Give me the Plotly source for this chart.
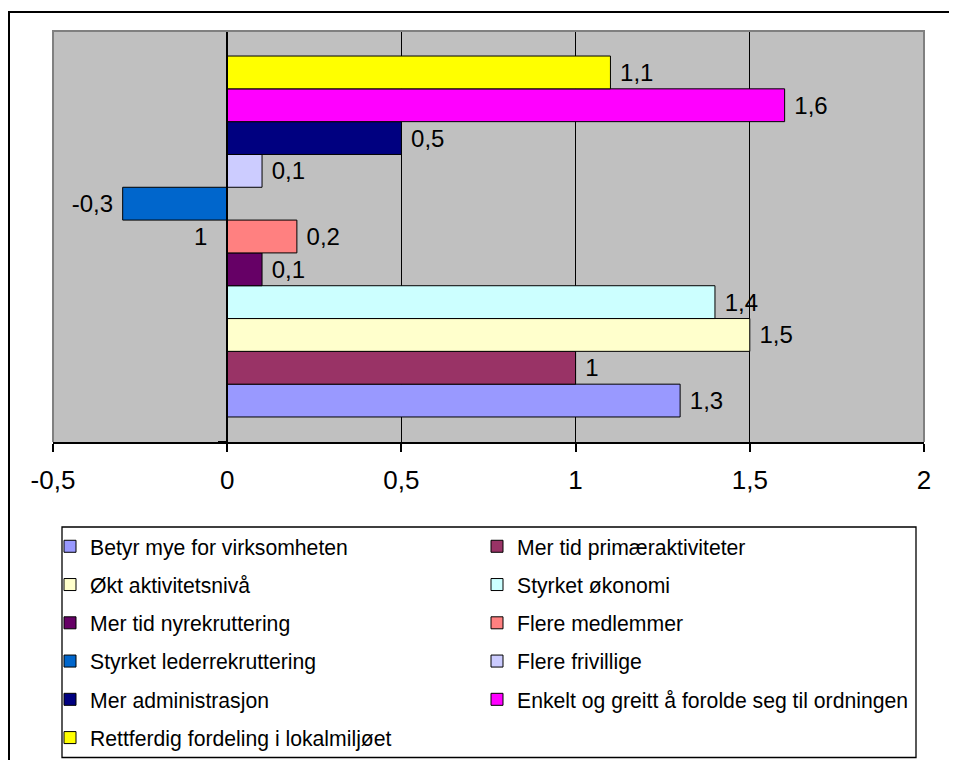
import plotly.graph_objects as go

categories = ["1"]
series_names = [
    "Betyr mye for virksomheten",
    "Mer tid primæraktiviteter",
    "Økt aktivitetsnivå",
    "Styrket økonomi",
    "Mer tid nyrekruttering",
    "Flere medlemmer",
    "Styrket lederrekruttering",
    "Flere frivillige",
    "Mer administrasjon",
    "Enkelt og greitt å forolde seg til ordningen",
    "Rettferdig fordeling i lokalmiljøet",
]
series_values = [1.3, 1.0, 1.5, 1.4, 0.1, 0.2, -0.3, 0.1, 0.5, 1.6, 1.1]
series_colors = [
    "#9999FF", "#993366", "#FFFFCC", "#CCFFFF", "#660066", "#FF8080",
    "#0066CC", "#CCCCFF", "#000080", "#FF00FF", "#FFFF00",
]
x_tickvals = [-0.5, 0, 0.5, 1, 1.5, 2]


def fmt(v):
    s = ("%g" % v).replace(".", ",")
    return (" " + s) if v >= 0 else (s + " ")


OFF = 8  # page body margin
W, H = 957 - OFF, 760 - OFF
# target plot area in screen pixels
PX_L, PX_R, PX_T, PX_B = 53, 924, 31, 442
L = PX_L - OFF
T = PX_T - OFF
R = W - (PX_R - OFF)
B = H - (PX_B - OFF)
PW, PH = W - L - R, H - T - B


def px_x(px):
    return (px - OFF - L) / PW


def px_y(py):
    return (H - B - (py - OFF)) / PH


fig = go.Figure()
for i, (name, val, col) in enumerate(zip(series_names, series_values, series_colors)):
    fig.add_trace(go.Bar(
        y=categories, x=[val], name=name, orientation="h",
        marker=dict(color=col, line=dict(color="black", width=1)),
        text=[fmt(val)], textposition="outside", constraintext="none",
        textfont=dict(size=24, color="black", family="Liberation Sans, Arial"),
        cliponaxis=False,
        legend="legend" if i % 2 == 0 else "legend2",
        legendgroup=name,
    ))

legend_common = dict(
    xanchor="left", yanchor="top", orientation="v",
    bgcolor="rgba(0,0,0,0)", borderwidth=0,
    font=dict(size=21.2, color="black", family="Liberation Sans, Arial"),
    traceorder="grouped", tracegroupgap=7.7,
)

fig.update_layout(
    width=W, height=H,
    margin=dict(l=L, r=R, t=T, b=B, pad=0, autoexpand=False),
    paper_bgcolor="white", plot_bgcolor="#C0C0C0",
    barmode="group", bargap=0.12, bargroupgap=0,
    font=dict(family="Liberation Sans, Arial", color="black"),
    legend=dict(x=px_x(50), y=px_y(526), **legend_common),
    legend2=dict(x=px_x(477), y=px_y(526), **legend_common),
    xaxis=dict(
        range=[-0.5, 2], tickvals=x_tickvals,
        ticktext=[("%g" % v).replace(".", ",") for v in x_tickvals],
        showgrid=True, gridcolor="black", gridwidth=1, zeroline=False,
        showline=True, linecolor="black", linewidth=2,
        ticks="outside", ticklen=8, tickcolor="black", tickwidth=2,
        tickfont=dict(size=26), ticklabelstandoff=6,
    ),
    yaxis=dict(
        type="category", range=[-0.501, 0.501],
        anchor="free", position=(0 - (-0.5)) / 2.5,
        showline=True, linecolor="black", linewidth=2,
        ticks="outside", tickson="boundaries", ticklen=8,
        tickcolor="black", tickwidth=2,
        showgrid=False, tickfont=dict(size=24), ticklabelstandoff=14,
    ),
    shapes=[
        dict(type="path", xref="paper", yref="paper",
             path="M 0 0 L 0 1 L 1 1 L 1 0",
             line=dict(color="#808080", width=2), layer="above"),
        dict(type="rect", xref="paper", yref="paper",
             x0=px_x(62), x1=px_x(916), y0=px_y(757.5), y1=px_y(527),
             line=dict(color="black", width=1.3), fillcolor="rgba(0,0,0,0)"),
        dict(type="rect", xref="paper", yref="paper",
             x0=px_x(9), x1=px_x(975), y0=px_y(780), y1=px_y(12),
             line=dict(color="black", width=2), fillcolor="rgba(0,0,0,0)"),
    ],
)

fig.write_html("out.html")
